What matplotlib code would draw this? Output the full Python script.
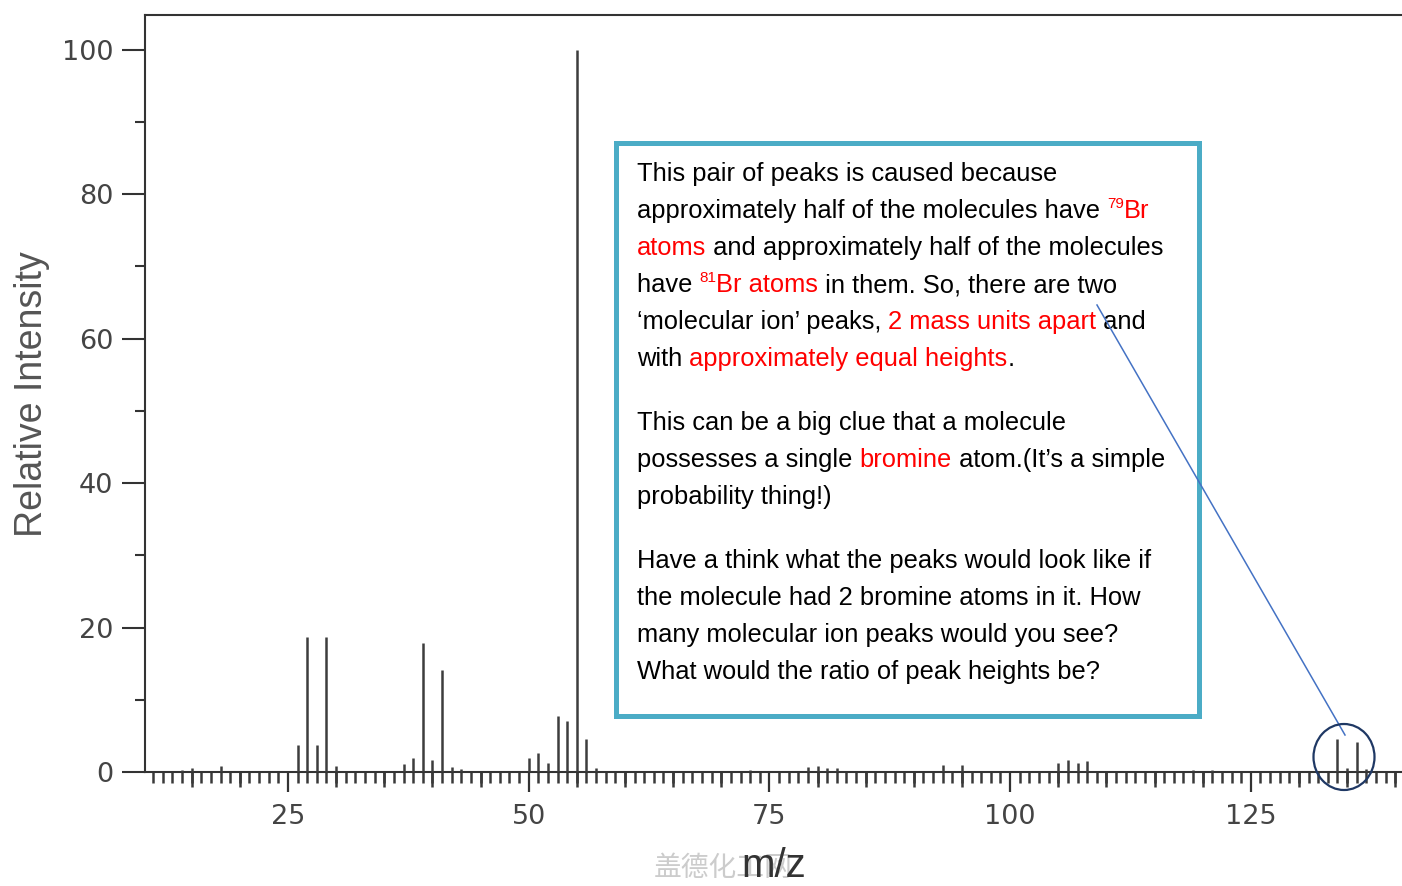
import matplotlib
matplotlib.use('Agg')
import matplotlib.pyplot as plt
from matplotlib.ticker import MultipleLocator
from matplotlib.patches import Rectangle, Ellipse
from matplotlib.lines import Line2D
from matplotlib.transforms import IdentityTransform

W, H = 1402, 886

# mass spectrum (m/z, relative intensity)
mz = [14, 15, 18, 26, 27, 28, 29, 30, 37, 38, 39, 40, 41, 42, 43,
      50, 51, 52, 53, 54, 55, 56, 57, 73, 79, 80, 81, 82, 93, 95,
      105, 106, 107, 108, 119, 121, 134, 135, 136, 137]
intensity = [0.3, 0.5, 0.8, 3.7, 18.7, 3.7, 18.7, 0.8, 1.1, 1.9, 17.9, 1.6, 14.1, 0.7, 0.4,
             2.0, 2.6, 1.3, 7.8, 7.0, 100, 4.6, 0.5, 0.3, 0.7, 0.8, 0.6, 0.6, 0.9, 0.9,
             1.3, 1.6, 1.2, 1.5, 0.3, 0.3, 4.5, 0.5, 4.2, 0.4]

x_label = 'm/z'
y_label = 'Relative Intensity'
watermark = '盖德化工网'

# callout text: (text, style) with style k = black, r = red, s = red superscript
para1 = [
    [('This pair of peaks is caused because', 'k')],
    [('approximately half of the molecules have ', 'k'), ('79', 's'), ('Br', 'r')],
    [('atoms', 'r'), (' and approximately half of the molecules', 'k')],
    [('have ', 'k'), ('81', 's'), ('Br atoms', 'r'), (' in them. So, there are two', 'k')],
    [('\u2018molecular ion\u2019 peaks, ', 'k'), ('2 mass units apart', 'r'), (' and', 'k')],
    [('with ', 'k'), ('approximately equal heights', 'r'), ('.', 'k')],
]
para2 = [
    [('This can be a big clue that a molecule', 'k')],
    [('possesses a single ', 'k'), ('bromine', 'r'), (' atom.(It\u2019s a simple', 'k')],
    [('probability thing!)', 'k')],
]
para3 = [
    [('Have a think what the peaks would look like if', 'k')],
    [('the molecule had 2 bromine atoms in it. How', 'k')],
    [('many molecular ion peaks would you see?', 'k')],
    [('What would the ratio of peak heights be?', 'k')],
]

fig = plt.figure(figsize=(W / 100, H / 100), dpi=100)
ax = fig.add_axes([145 / W, 1 - 772 / H, 1 - 145 / W, (772 - 15) / H])

ax.vlines(mz, 0, intensity, colors='#3d3d3d', linewidth=1.8, zorder=3)
ax.set_xlim(10.15, 140.7)
ax.set_ylim(0, 104.8)

for side in ['left', 'bottom', 'top']:
    ax.spines[side].set_color('#333333')
    ax.spines[side].set_linewidth(1.5)
ax.spines['right'].set_visible(False)

ax.xaxis.set_major_locator(MultipleLocator(25))
ax.xaxis.set_minor_locator(MultipleLocator(1))
ax.yaxis.set_major_locator(MultipleLocator(20))
ax.yaxis.set_minor_locator(MultipleLocator(10))
ax.tick_params(axis='x', which='major', length=14.4, width=1.6, color='#333333',
               pad=8.5, labelsize=19.5, labelcolor='#444444')
ax.tick_params(axis='x', which='minor', length=8, width=1.8, color='#3a3a3a')
ax.tick_params(axis='y', which='major', length=16.5, width=1.5, color='#333333',
               pad=6.5, labelsize=19.5, labelcolor='#444444')
ax.tick_params(axis='y', which='minor', length=7.2, width=1.5, color='#333333')

# medium ticks every 5
sec = ax.secondary_xaxis('bottom')
sec.set_xticks([v for v in range(15, 141, 5) if v % 25])
sec.tick_params(length=10.5, width=1.8, color='#3a3a3a', labelbottom=False)
sec.spines['bottom'].set_visible(False)

ax.set_ylabel(y_label, fontsize=27, color='#555555', family='Liberation Sans', va='center')
ax.yaxis.set_label_coords((32 - 145) / (W - 145), (772 - 394) / (772 - 15))
ax.set_xlabel(x_label, fontsize=29, color='#333333', family='Liberation Sans', va='center')
ax.xaxis.set_label_coords((774 - 145) / (W - 145), (772 - 866) / (772 - 15))
ax.text((723 - 145) / (W - 145), (772 - 868) / (772 - 15), watermark, transform=ax.transAxes,
        fontsize=20, color='#cccccc', family=['Noto Sans CJK SC', 'DejaVu Sans'],
        ha='center', va='center', clip_on=False, zorder=0)

# callout box
px = IdentityTransform()
fig.patches.append(Rectangle((616, H - 716), 583, 573, transform=px, fill=True,
                             facecolor='white', edgecolor='#4bacc6', linewidth=3.6, zorder=5))

renderer = fig.canvas.get_renderer()
FONT = 'Liberation Sans'
SIZE = 18.4
SUP = 11


def advance(s, size):
    t1 = fig.text(0, 0, s + '|', fontsize=size, family=FONT)
    t2 = fig.text(0, 0, '|', fontsize=size, family=FONT)
    w = t1.get_window_extent(renderer).width - t2.get_window_extent(renderer).width
    t1.remove()
    t2.remove()
    return w


def draw_line(segments, x0, base):
    x = x0
    for s, style in segments:
        size = SUP if style == 's' else SIZE
        y = base - 10 if style == 's' else base
        fig.text(x, H - y, s, transform=px, fontsize=size, family=FONT,
                 color='black' if style == 'k' else '#ff0000', va='baseline', zorder=6)
        x += advance(s, size)


for lines, top in [(para1, 181), (para2, 430), (para3, 568)]:
    for i, segs in enumerate(lines):
        draw_line(segs, 637, top + 37 * i)

# leader line and circle round the molecular ion peaks
fig.add_artist(Line2D([1097, 1345], [H - 305, H - 735], transform=px,
                      color='#4472c4', linewidth=1.1, zorder=7))
fig.add_artist(Ellipse((1344, H - 757), 61, 66, transform=px, fill=False,
                       edgecolor='#1f3864', linewidth=1.6, zorder=7))

fig.savefig('out.png', dpi=100)
